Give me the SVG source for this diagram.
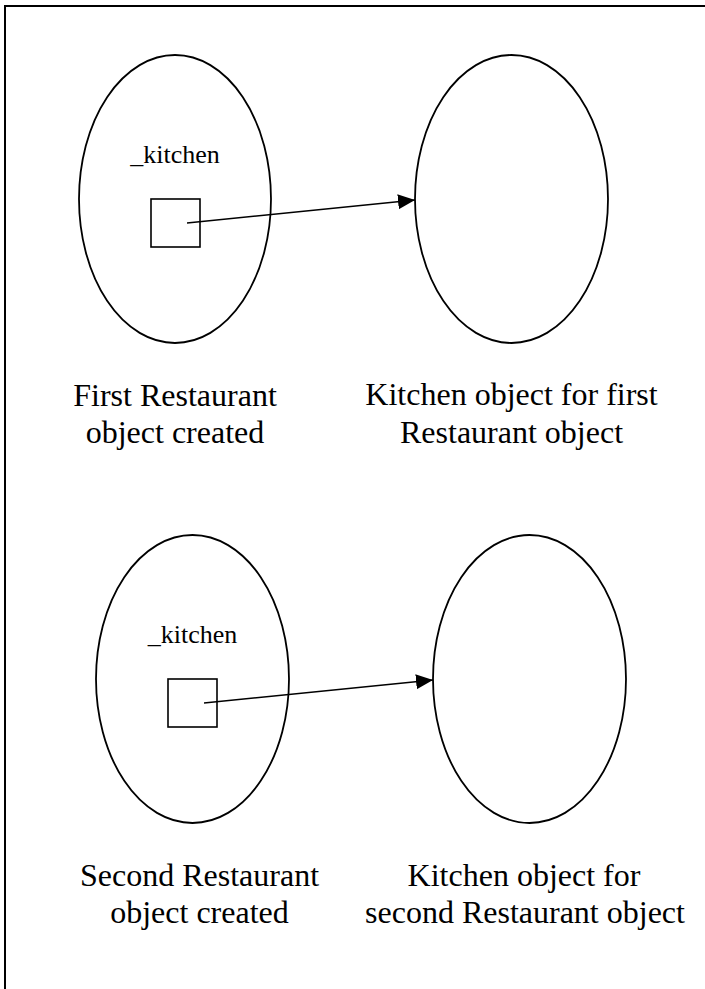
<svg xmlns="http://www.w3.org/2000/svg" width="705" height="989" viewBox="0 0 705 989">
<style>
.obj{fill:none;stroke:#000;stroke-width:1.8}
.box{fill:none;stroke:#000;stroke-width:1.6}
.ref{fill:none;stroke:#000;stroke-width:1.6}
.lbl{font-family:"Liberation Serif","Times New Roman",serif;font-size:32px;fill:#000;text-anchor:middle}
.fld{font-family:"Liberation Serif","Times New Roman",serif;font-size:26px;fill:#000;text-anchor:middle}
</style>
<defs>
<marker id="ah" markerUnits="userSpaceOnUse" markerWidth="18" markerHeight="16" refX="17" refY="7.5" orient="auto">
<path d="M0,0 L17,7.5 L0,15 z" fill="#000"/>
</marker>
</defs>
<rect x="5" y="6" width="720" height="1000" fill="#fff" stroke="#000" stroke-width="2"/>
<g id="restaurant1">
<ellipse class="obj" cx="175" cy="199" rx="96" ry="144"/>
<text class="fld" x="175" y="163">_kitchen</text>
<rect class="box" x="151" y="199" width="49" height="48"/>
<text class="lbl" x="175" y="406">First Restaurant</text>
<text class="lbl" x="175" y="443">object created</text>
</g>
<g id="kitchen1">
<ellipse class="obj" cx="511.5" cy="199" rx="96.5" ry="144"/>
<text class="lbl" x="511.5" y="405">Kitchen object for first</text>
<text class="lbl" x="511.5" y="443">Restaurant object</text>
</g>
<g id="restaurant2">
<ellipse class="obj" cx="192.5" cy="679" rx="96.5" ry="144"/>
<text class="fld" x="192.5" y="643">_kitchen</text>
<rect class="box" x="168" y="679" width="49" height="48"/>
<text class="lbl" x="199.5" y="886">Second Restaurant</text>
<text class="lbl" x="199.5" y="923">object created</text>
</g>
<g id="kitchen2">
<ellipse class="obj" cx="529.5" cy="679" rx="96.5" ry="144"/>
<text class="lbl" x="524" y="886">Kitchen object for</text>
<text class="lbl" x="525" y="923">second Restaurant object</text>
</g>
<g id="connectors">
<line class="ref" x1="187" y1="223" x2="415" y2="200" marker-end="url(#ah)"/>
<line class="ref" x1="204" y1="703" x2="433" y2="680" marker-end="url(#ah)"/>
</g>
</svg>
